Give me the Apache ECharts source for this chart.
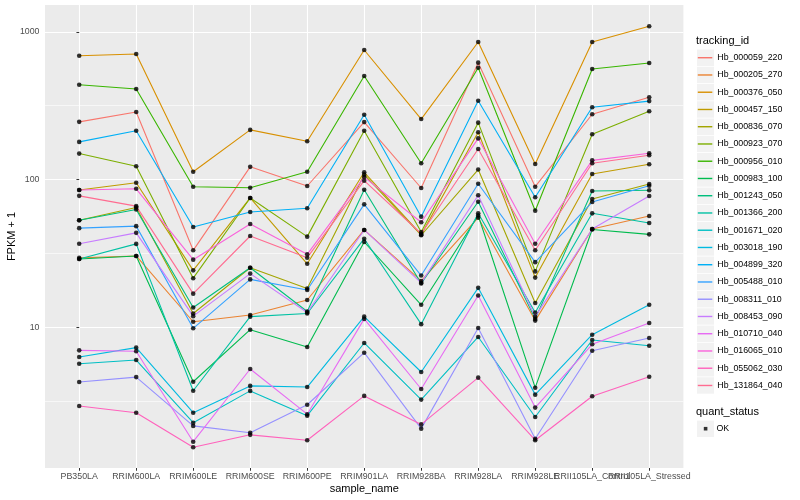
<!DOCTYPE html>
<html><head><meta charset="utf-8">
<script src="https://cdn.jsdelivr.net/npm/echarts@6/dist/echarts.min.js"></script>
<style>html,body{margin:0;padding:0;background:#fff}#c{width:800px;height:500px}</style>
</head><body><div id="c"></div>
<script>
const categories = ["PB350LA","RRIM600LA","RRIM600LE","RRIM600SE","RRIM600PE","RRIM901LA","RRIM928BA","RRIM928LA","RRIM928LE","RRII105LA_Control","RRII105LA_Stressed"];
const trackingIds = ["Hb_000059_220","Hb_000205_270","Hb_000376_050","Hb_000457_150","Hb_000836_070","Hb_000923_070","Hb_000956_010","Hb_000983_100","Hb_001243_050","Hb_001366_200","Hb_001671_020","Hb_003018_190","Hb_004899_320","Hb_005488_010","Hb_008311_010","Hb_008453_090","Hb_010710_040","Hb_016065_010","Hb_055062_030","Hb_131864_040"];
const colors = ["#F8766D","#EA8331","#D89000","#C09B00","#A3A500","#7CAE00","#39B600","#00BB4E","#00BF7D","#00C1A3","#00BFC4","#00BAE0","#00B0F6","#35A2FF","#9590FF","#C77CFF","#E76BF3","#FA62DB","#FF62BC","#FF6C91"];
const yTickLabels = [10, 100, 1000];
const yMinorBreaks = [3.1623, 31.623, 316.23];

// FPKM + 1 values per gene, in category order
const Hb_000059_220 = [246, 287, 33.2, 122, 90.5, 245, 87.7, 619, 89.5, 277, 361];
const Hb_000205_270 = [29.5, 30.4, 10.9, 12.1, 15.3, 45.6, 20.6, 55.2, 11.1, 46.3, 56.7];
const Hb_000376_050 = [690, 709, 113, 217, 182, 754, 257, 854, 127.5, 854, 1091];
const Hb_000457_150 = [85, 95.1, 24.3, 75.1, 26.9, 112, 42.4, 209, 21.7, 109, 127];
const Hb_000836_070 = [53, 64.8, 12.4, 25.3, 18.3, 108, 42, 117, 14.6, 73.9, 93.4];
const Hb_000923_070 = [150, 123, 21.5, 75.1, 41.1, 214, 44.2, 243, 23.9, 203, 290];
const Hb_000956_010 = [439, 411, 89.5, 88.1, 113, 503, 129, 572, 61.6, 561, 616];
const Hb_000983_100 = [29, 30.4, 4.28, 9.63, 7.36, 37.8, 14.2, 57.1, 3.90, 45.9, 42.6];
const Hb_001243_050 = [53, 62.8, 13.6, 25.3, 12.8, 85.4, 19.8, 70.8, 11.4, 83.7, 84.6];
const Hb_001366_200 = [29, 36.7, 3.72, 11.8, 12.4, 39.8, 10.5, 59.1, 12.6, 59.1, 50.8];
const Hb_001671_020 = [5.67, 6.0, 2.26, 3.71, 2.52, 7.83, 3.24, 8.6, 2.47, 8.20, 7.50];
const Hb_003018_190 = [6.29, 7.28, 2.64, 4.01, 3.94, 11.8, 4.98, 18.5, 3.50, 8.91, 14.2];
const Hb_004899_320 = [180, 214, 47.8, 60.3, 64, 275, 56.1, 342, 76, 309, 340];
const Hb_005488_010 = [46.9, 48.4, 9.84, 21.1, 17.9, 68.0, 22.4, 93.8, 27.6, 70.5, 90.9];
const Hb_008311_010 = [4.26, 4.6, 2.15, 1.93, 2.99, 6.73, 2.06, 9.9, 1.76, 6.94, 8.47];
const Hb_008453_090 = [36.8, 43.6, 11.9, 23.1, 12.6, 45.6, 20.0, 78.3, 11.8, 46.3, 77.4];
const Hb_010710_040 = [6.98, 6.88, 1.68, 5.22, 2.58, 11.4, 3.82, 16.4, 2.86, 7.67, 10.7];
const Hb_016065_010 = [85, 86.6, 28.7, 50.1, 31.2, 104, 51.4, 190, 36.8, 135, 150.7];
const Hb_055062_030 = [2.93, 2.64, 1.54, 1.87, 1.72, 3.43, 2.20, 4.56, 1.72, 3.41, 4.63];
const Hb_131864_040 = [77.6, 66.1, 16.9, 41.5, 29.6, 98.3, 43, 161, 33.2, 129, 146];

const seriesValues = [Hb_000059_220, Hb_000205_270, Hb_000376_050, Hb_000457_150, Hb_000836_070,
  Hb_000923_070, Hb_000956_010, Hb_000983_100, Hb_001243_050, Hb_001366_200, Hb_001671_020,
  Hb_003018_190, Hb_004899_320, Hb_005488_010, Hb_008311_010, Hb_008453_090, Hb_010710_040,
  Hb_016065_010, Hb_055062_030, Hb_131864_040];

const FONT = '"Liberation Sans", Arial, Helvetica, sans-serif';
const catIdx = categories.map((_, i) => i);
const evenIdx = catIdx.filter(i => i % 2 === 0);
const oddIdx = catIdx.filter(i => i % 2 === 1);

const series = seriesValues.map((vals, k) => ({
  name: trackingIds[k], type: 'line', xAxisIndex: 0, yAxisIndex: 0,
  data: vals.map((v, i) => [i, v]),
  showSymbol: false, symbol: 'none',
  lineStyle: { color: colors[k], width: 1.1 },
  itemStyle: { color: colors[k] },
  silent: true, z: 2
}));
series[0].markLine = {
  silent: true, symbol: 'none', z: 1, animation: false,
  label: { show: false }, emphasis: { disabled: true },
  lineStyle: { color: '#ffffff', width: 0.6, type: 'solid' },
  data: yMinorBreaks.map(v => ({ yAxis: v }))
};
series.push({
  name: 'OK', type: 'scatter', xAxisIndex: 0, yAxisIndex: 0,
  data: seriesValues.flatMap(vals => vals.map((v, i) => [i, v])),
  symbol: 'circle', symbolSize: 4.6,
  itemStyle: { color: '#000000' }, silent: true, z: 3
});

const LEG_TOP = 49.1, LEG_STEP = 17.25;
const graphics = [
  { type: 'text', x: 696, y: 40.7, style: { text: 'tracking_id', fontSize: 11, fontFamily: FONT, fill: '#000', verticalAlign: 'middle' } },
  { type: 'text', x: 696, y: 412.3, style: { text: 'quant_status', fontSize: 11, fontFamily: FONT, fill: '#000', verticalAlign: 'middle' } },
  { type: 'rect', z: 0, shape: { x: 697, y: 420.6, width: 17, height: 16.4 }, style: { fill: '#F2F2F2' } }
];
trackingIds.forEach((_, k) => {
  graphics.push({ type: 'rect', z: 0, shape: { x: 697, y: LEG_TOP + k * LEG_STEP + 0.4, width: 17, height: LEG_STEP - 0.8 }, style: { fill: '#F2F2F2' } });
});

const labelStyle = { formatter: v => categories[Math.round(v)] || '', color: '#4D4D4D', fontSize: 8.8, fontFamily: FONT, margin: 4, hideOverlap: false, showMinLabel: true, showMaxLabel: true };

const chart = echarts.init(document.getElementById('c'), null, { renderer: 'canvas' });
chart.setOption({
  animation: false,
  backgroundColor: '#ffffff',
  grid: { left: 45, top: 5, width: 638.4, height: 463, show: true, backgroundColor: '#EBEBEB', borderWidth: 0, containLabel: false, outerBoundsMode: 'none' },
  xAxis: [{
    type: 'value', min: -0.6, max: 10.6, position: 'bottom',
    axisLine: { show: false },
    axisTick: { show: true, length: 2.75, lineStyle: { color: '#333333', width: 1 }, customValues: catIdx },
    axisLabel: Object.assign({ customValues: evenIdx }, labelStyle),
    splitLine: { show: true, lineStyle: { color: '#ffffff', width: 1.1 } },
    name: 'sample_name', nameLocation: 'middle', nameGap: 15.5, nameMoveOverlap: false,
    nameTextStyle: { color: '#000', fontSize: 11, fontFamily: FONT }
  }, {
    type: 'value', min: -0.6, max: 10.6, position: 'bottom', offset: 0,
    axisLine: { show: false }, axisTick: { show: false }, splitLine: { show: false },
    axisLabel: Object.assign({ customValues: oddIdx }, labelStyle)
  }],
  yAxis: {
    type: 'log', logBase: 10, min: 1.115, max: 1521,
    axisLine: { show: false },
    axisTick: { show: true, length: 2.75, lineStyle: { color: '#333333', width: 1 } },
    axisLabel: {
      formatter: v => yTickLabels.includes(Math.round(v)) ? String(Math.round(v)) : '',
      showMinLabel: false, showMaxLabel: false,
      color: '#4D4D4D', fontSize: 8.8, fontFamily: FONT, margin: 5.5
    },
    splitLine: { show: true, showMinLine: false, showMaxLine: false, lineStyle: { color: '#ffffff', width: 1.1 } },
    minorTick: { show: false }, minorSplitLine: { show: false },
    name: 'FPKM + 1', nameLocation: 'middle', nameGap: 27.5, nameRotate: 90, nameMoveOverlap: false,
    nameTextStyle: { color: '#000', fontSize: 11, fontFamily: FONT }
  },
  legend: [{
    data: trackingIds.map((id, k) => ({ name: id, itemStyle: { color: colors[k] } })),
    orient: 'vertical', left: 697.8, top: LEG_TOP, padding: 0,
    itemWidth: 14.5, itemHeight: 1.4, itemGap: 0, icon: 'rect',
    textStyle: { fontSize: 8.8, lineHeight: LEG_STEP, color: '#000', fontFamily: FONT },
    selectedMode: false
  }, {
    data: [{ name: 'OK', itemStyle: { color: '#000' } }],
    orient: 'vertical', left: 703.8, top: 420.2, padding: 0,
    itemWidth: 3.6, itemHeight: 3.6, itemGap: 0, icon: 'rect',
    textStyle: { fontSize: 8.8, lineHeight: 17, color: '#000', fontFamily: FONT, padding: [0, 0, 0, 4] },
    selectedMode: false
  }],
  graphic: graphics,
  series: series
});
</script>
</body></html>
